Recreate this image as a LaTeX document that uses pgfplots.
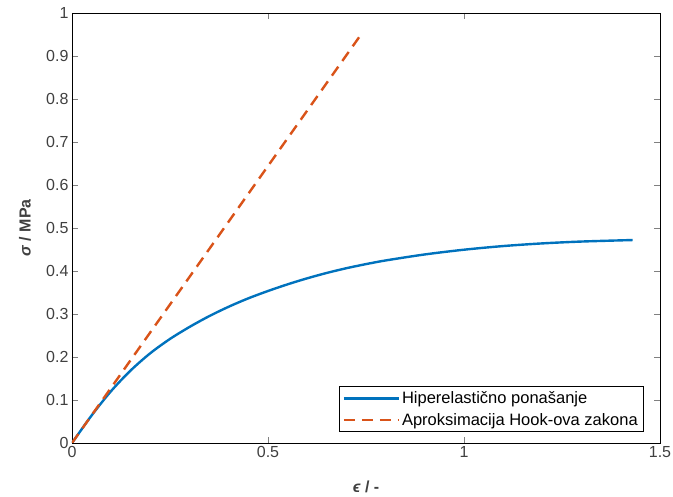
\documentclass[border=0pt]{standalone}
\usepackage{pgfplots}
\pgfplotsset{compat=1.18}
\usepackage{fontspec}
\setmainfont{Liberation Sans}
\usetikzlibrary{calc}
\definecolor{mblue}{rgb}{0,0.447,0.741}
\definecolor{morange}{rgb}{0.85,0.325,0.098}
\definecolor{labgray}{gray}{0.25}

\begin{document}
\begin{tikzpicture}
\begin{axis}[
  scale only axis, width=588pt, height=430pt,
  xmin=0, xmax=1.5, ymin=0, ymax=1,
  xtick={0,0.5,1,1.5},
  ytick={0,0.1,0.2,0.3,0.4,0.5,0.6,0.7,0.8,0.9,1},
  xticklabels={0,0.5,1,1.5},
  yticklabels={0,0.1,0.2,0.3,0.4,0.5,0.6,0.7,0.8,0.9,1},
  tick align=inside, major tick length=6pt,
  axis line style={line width=0.9pt},
  ticklabel style={font=\fontsize{16}{18}\selectfont, color=labgray},
  xlabel={\textbf{\textit{ϵ} / -}},
  ylabel={\textbf{\textit{σ} / MPa}},
  label style={font=\fontsize{16}{18}\selectfont, color=labgray},
  xlabel style={at={(axis description cs:0.5,0)}, anchor=center, yshift=-44pt},
  ylabel style={at={(axis description cs:0,0.5)}, anchor=center, yshift=47pt},
  legend style={at={(0.971,0.026)}, anchor=south east,
    font=\fontsize{16.5}{19}\selectfont, inner ysep=3pt, row sep=4pt},
  legend cell align=left,
  legend image code/.code={\draw[#1] (0pt,0pt) -- (55pt,0pt);},
]
\addplot[mblue, line width=2.4pt, smooth] coordinates {
  (0,0) (0.05,0.064) (0.1,0.121) (0.15,0.169) (0.2,0.209) (0.25,0.242)
  (0.3,0.27) (0.35,0.295) (0.4,0.317) (0.45,0.3365) (0.5,0.3535)
  (0.55,0.369) (0.6,0.383) (0.65,0.3955) (0.7,0.4065) (0.75,0.416)
  (0.8,0.4245) (0.9,0.4385) (1.0,0.4495) (1.1,0.458) (1.2,0.4642)
  (1.3,0.4685) (1.43,0.472)};
\addlegendentry{Hiperelastično ponašanje}
\addplot[morange, line width=2.4pt, dash pattern=on 11pt off 7pt] coordinates {
  (0,0) (0.742,0.956)};
\addlegendentry{Aproksimacija Hook-ova zakona}
\end{axis}
\pgfresetboundingbox
\path[use as bounding box] ($(current axis.south west)+(-72pt,-54pt)$) rectangle ($(current axis.north east)+(13pt,13pt)$);
\end{tikzpicture}
\end{document}
